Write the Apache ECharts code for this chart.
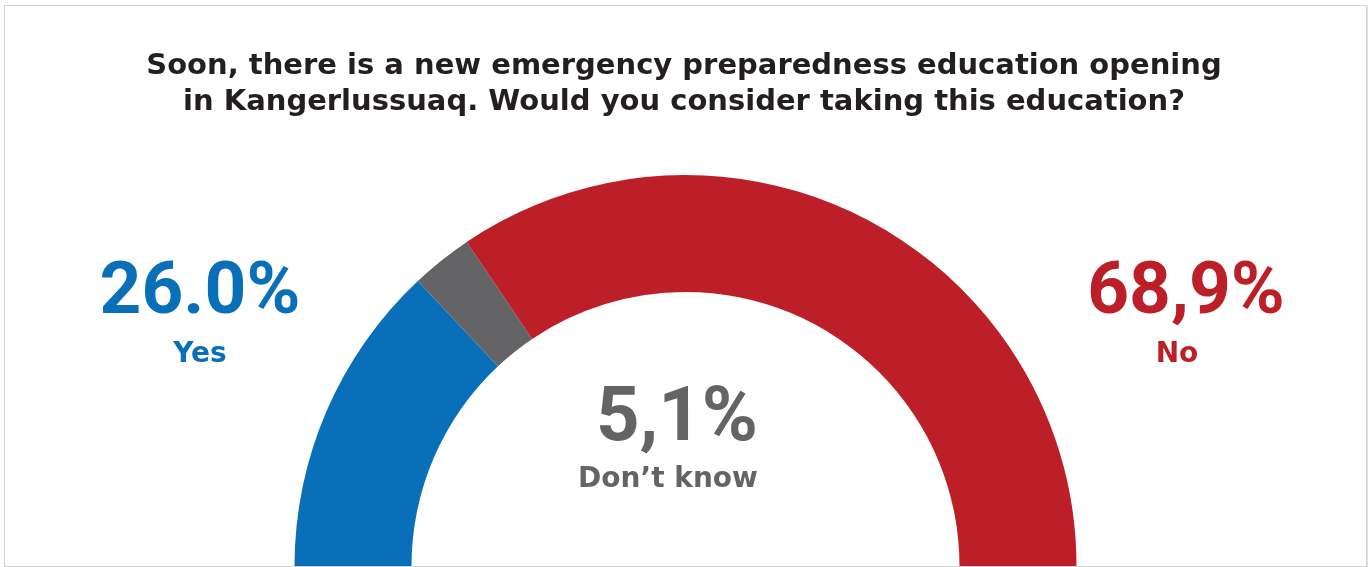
<!DOCTYPE html>
<html>
<head>
<meta charset="utf-8">
<script src="https://cdn.jsdelivr.net/npm/echarts@6/dist/echarts.min.js"></script>
<style>
  html, body { margin: 0; padding: 0; background: #ffffff; }
  #chart { position: absolute; left: 0; top: 0; width: 1368px; height: 567px; }
  #frame {
    position: absolute; left: 4px; top: 5px; width: 1361px; height: 560px;
    border: 1px solid #d2d2d2;
    box-shadow: 1px 1px 1px rgba(0,0,0,0.12);
    pointer-events: none; z-index: 2;
  }
</style>
</head>
<body>
<div id="chart"></div>
<div id="frame"></div>
<script>
// Survey answers, in percent
const categories = ['Yes', "Don’t know", 'No'];
const shares = [26.0, 5.1, 68.9];
const decimalMarks = ['.', ',', ','];
const colors = ['#0a6fb9', '#646466', '#bc1f27'];
const questionLines = [
  'Soon, there is a new emergency preparedness education opening',
  'in Kangerlussuaq. Would you consider taking this education?'
];

const NUM_FONT = 'Roboto, "Noto Sans", sans-serif';
const TEXT_FONT = '"DejaVu Sans", Verdana, sans-serif';

function pct(i) {
  return shares[i].toFixed(1).replace('.', decimalMarks[i]) + '%';
}

// Where each answer's value and name sit around the half ring
const valueSpots = [
  { x: 200, y: 295, size: 73 },   // Yes
  { x: 677, y: 421, size: 76 },   // Don't know
  { x: 1186, y: 295, size: 73 }   // No
];
const nameSpots = [
  { x: 200, y: 355 },
  { x: 668, y: 480 },
  { x: 1177, y: 355 }
];

const graphics = [];

// Question, one centred text per line
questionLines.forEach((line, k) => {
  graphics.push({
    type: 'text',
    x: 684, y: 66 + k * 36,
    style: {
      text: line, fill: '#231f20', textAlign: 'center', textVerticalAlign: 'middle',
      font: 'bold 29px ' + TEXT_FONT
    }
  });
});

categories.forEach((name, i) => {
  graphics.push({
    type: 'text',
    x: valueSpots[i].x, y: valueSpots[i].y,
    style: {
      text: pct(i), fill: colors[i], textAlign: 'center', textVerticalAlign: 'middle',
      font: 'bold ' + valueSpots[i].size + 'px ' + NUM_FONT
    }
  });
  graphics.push({
    type: 'text',
    x: nameSpots[i].x, y: nameSpots[i].y,
    style: {
      text: name, fill: colors[i], textAlign: 'center', textVerticalAlign: 'middle',
      font: 'bold 28px ' + TEXT_FONT
    }
  });
});

const chart = echarts.init(document.getElementById('chart'), null, { renderer: 'canvas' });
chart.setOption({
  backgroundColor: '#ffffff',
  animation: false,
  series: [{
    type: 'pie',
    center: [685.5, 566],
    radius: [274, 391],
    startAngle: 180,
    endAngle: 0,
    clockwise: true,
    silent: true,
    label: { show: false },
    labelLine: { show: false },
    itemStyle: { borderWidth: 0 },
    data: categories.map((name, i) => ({
      name, value: shares[i], itemStyle: { color: colors[i] }
    }))
  }],
  graphic: graphics
});
</script>
</body>
</html>
